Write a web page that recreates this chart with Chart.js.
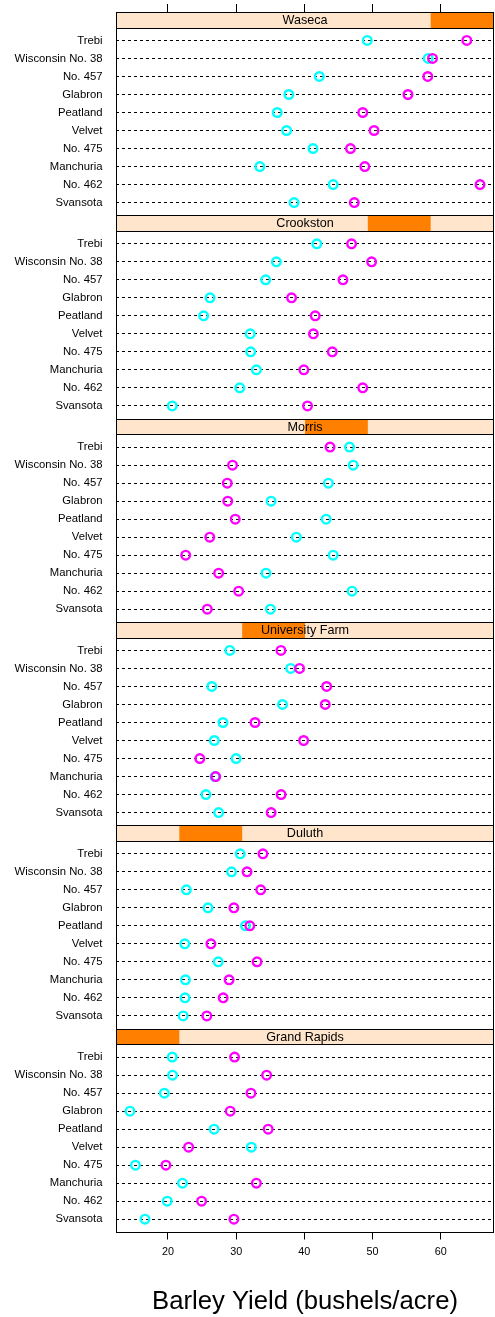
<!DOCTYPE html>
<html><head><meta charset="utf-8">
<script src="https://cdn.jsdelivr.net/npm/chart.js@4.4.0/dist/chart.umd.min.js"></script>
<style>html,body{margin:0;padding:0;background:#fff;overflow:hidden}canvas{display:block}</style>
</head><body>
<canvas id="c" width="495" height="1317"></canvas>
<script>
// ---- data (panels listed top to bottom, varieties listed top to bottom) ----
const sites = ["Waseca", "Crookston", "Morris", "University Farm", "Duluth", "Grand Rapids"];
const varieties = ["Trebi", "Wisconsin No. 38", "No. 457", "Glabron", "Peatland", "Velvet", "No. 475", "Manchuria", "No. 462", "Svansota"];
const xTicks = [20, 30, 40, 50, 60];

const waseca1931 = [63.83, 58.80, 58.10, 55.20, 48.57, 50.23, 46.77, 48.87, 65.77, 47.33];
const waseca1932 = [49.23, 58.17, 42.20, 37.73, 36.03, 37.40, 41.27, 33.47, 44.23, 38.50];
const crookston1931 = [46.93, 49.87, 45.67, 38.13, 41.60, 41.33, 44.10, 39.93, 48.57, 40.47];
const crookston1932 = [41.83, 35.90, 34.33, 26.17, 25.23, 32.07, 32.13, 32.97, 30.53, 20.63];
const morris1931 = [43.77, 29.47, 28.70, 28.77, 29.87, 26.13, 22.60, 27.43, 30.37, 25.77];
const morris1932 = [46.63, 47.17, 43.53, 35.13, 43.20, 38.83, 44.23, 34.37, 47.00, 35.03];
const univFarm1931 = [36.57, 39.30, 43.27, 43.07, 32.77, 39.90, 24.67, 27.00, 36.60, 35.13];
const univFarm1932 = [29.07, 38.00, 26.43, 36.80, 28.07, 26.80, 30.00, 26.90, 25.57, 27.43];
const duluth1931 = [33.93, 31.60, 33.60, 29.67, 32.00, 26.30, 33.07, 28.97, 28.10, 25.70];
const duluth1932 = [30.60, 29.33, 22.70, 25.87, 31.37, 22.47, 27.37, 22.57, 22.50, 22.23];
const grandRapids1931 = [29.77, 34.47, 32.17, 29.13, 34.70, 23.03, 19.70, 32.97, 24.93, 29.67];
const grandRapids1932 = [20.63, 20.67, 19.47, 14.43, 26.77, 32.23, 15.23, 22.13, 19.90, 16.63];

const series1931 = [waseca1931, crookston1931, morris1931, univFarm1931, duluth1931, grandRapids1931];
const series1932 = [waseca1932, crookston1932, morris1932, univFarm1932, duluth1932, grandRapids1932];

// ---- styling ----
const FONT = '"Liberation Sans", Arial, Helvetica, sans-serif';
const COL1932 = '#00ffff';
const COL1931 = '#ff00ff';
const STRIP_BG = '#ffe5cc';
const STRIP_FG = '#ff7f00';
const Y_MIN = 0.29, Y_MAX = 11.58, STRIP_BASE = 10.71;

const nV = varieties.length;
const toPoints = arr => arr.map((v, j) => ({ x: v, y: nV - j }));

const datasets = [];
sites.forEach((s, i) => {
  datasets.push({
    label: s + ' 1932', data: toPoints(series1932[i]), yAxisID: 'y' + i, xAxisID: 'x',
    borderColor: COL1932, backgroundColor: 'rgba(0,0,0,0)', pointBorderWidth: 2.4,
    pointRadius: 4.3, pointHoverRadius: 4.3, order: 1
  });
  datasets.push({
    label: s + ' 1931', data: toPoints(series1931[i]), yAxisID: 'y' + i, xAxisID: 'x',
    borderColor: COL1931, backgroundColor: 'rgba(0,0,0,0)', pointBorderWidth: 2.4,
    pointRadius: 4.3, pointHoverRadius: 4.3, order: 0
  });
});

const setXTicks = s => { s.ticks = xTicks.map(v => ({ value: v })); };
const noPad = s => { s.paddingTop = 0; s.paddingBottom = 0; s.paddingLeft = 0; s.paddingRight = 0; };

const scales = {
  x: {
    type: 'linear', position: 'bottom', min: 12.38, max: 67.82,
    afterBuildTicks: setXTicks,
    afterFit: s => { s.height = 85; noPad(s); },
    grid: { drawOnChartArea: false, drawTicks: true, tickLength: 7.5, color: '#000', lineWidth: 1 },
    border: { display: false },
    ticks: { font: { family: FONT, size: 10.8 }, color: '#000', padding: 6.5, maxRotation: 0 },
    title: { display: true, text: 'Barley Yield (bushels/acre)', font: { family: FONT, size: 25.7 }, color: '#000', padding: { top: 0, bottom: 0 } }
  },
  x2: {
    type: 'linear', position: 'top', min: 12.38, max: 67.82,
    afterBuildTicks: setXTicks,
    afterFit: s => { s.height = 8; noPad(s); },
    grid: { drawOnChartArea: false, drawTicks: true, tickLength: 8, color: '#000', lineWidth: 1 },
    border: { display: false },
    ticks: { display: false }
  }
};
sites.forEach((s, i) => {
  scales['y' + i] = {
    type: 'linear', axis: 'y', position: 'left', stack: 'panels', stackWeight: 1, weight: sites.length - i,
    min: Y_MIN, max: Y_MAX,
    afterBuildTicks: sc => { sc.ticks = varieties.map((v, j) => ({ value: j + 1 })); },
    afterFit: sc => { sc.width = 116; noPad(sc); },
    ticks: {
      callback: val => varieties[nV - val],
      font: { family: FONT, size: 11.3 }, color: '#000', padding: 13.5, autoSkip: false
    },
    grid: { color: '#000', lineWidth: 1, drawTicks: false, drawOnChartArea: true },
    border: { display: false, dash: [3, 3] }
  };
});

const panelPlugin = {
  id: 'panels',
  afterDatasetsDraw(chart) {
    const ctx = chart.ctx;
    const ca = chart.chartArea;
    const L = Math.round(ca.left) + 0.5;
    const R = Math.round(ca.right) - 0.5;
    const W = R - L;
    ctx.save();
    sites.forEach((site, i) => {
      const sc = chart.scales['y' + i];
      const top = Math.round(sc.top) + 0.5;
      const bottom = Math.round(sc.bottom) + 0.5;
      const sb = Math.round(sc.getPixelForValue(STRIP_BASE)) + 0.5;
      ctx.fillStyle = STRIP_BG;
      ctx.fillRect(L, top, W, sb - top);
      const level = sites.length - 1 - i;
      const seg = W / sites.length;
      ctx.fillStyle = STRIP_FG;
      ctx.fillRect(L + seg * level, top, seg, sb - top);
      ctx.fillStyle = '#000';
      ctx.font = '12.6px ' + FONT;
      ctx.textAlign = 'center';
      ctx.textBaseline = 'middle';
      ctx.fillText(site, (L + R) / 2, (top + sb) / 2 + 0.5);
      ctx.strokeStyle = '#000';
      ctx.lineWidth = 1;
      ctx.strokeRect(L, top, W, sb - top);
      ctx.strokeRect(L, top, W, bottom - top);
    });
    ctx.restore();
  }
};

new Chart(document.getElementById('c'), {
  type: 'scatter',
  data: { datasets },
  options: {
    responsive: false, animation: false, devicePixelRatio: 1,
    layout: { autoPadding: false, padding: { top: 4, right: 1, bottom: 0, left: 0 } },
    plugins: { legend: { display: false }, tooltip: { enabled: false } },
    scales
  },
  plugins: [panelPlugin]
});
</script>
</body></html>
